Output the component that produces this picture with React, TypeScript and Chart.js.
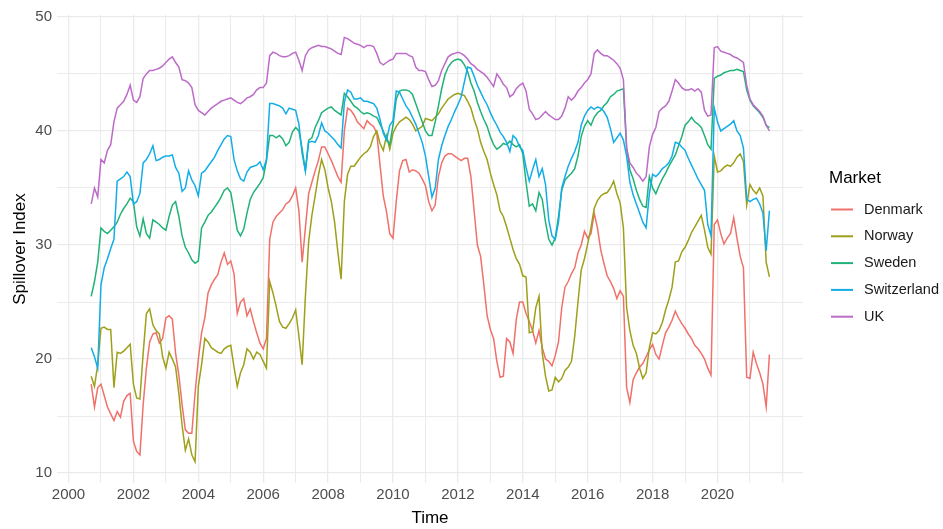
import { useEffect, useRef } from 'react';
import { Chart, registerables } from 'chart.js';

Chart.register(...registerables);

const FONT = '"Liberation Sans", Arial, Helvetica, sans-serif';

// Sampling grid: every 0.1 year from 2000.7 to 2021.6
const START_YEAR = 2000.7;
const STEP_YEAR = 0.1;

const denmark = [
  17.8, 15.8, 17.5, 17.8, 16.8, 15.8, 15.2, 14.6, 15.4, 14.9, 16.3, 16.8, 17.0, 12.8, 11.9, 11.6, 16.0, 19.2, 21.5, 22.2, 22.3, 21.4, 21.8, 23.6, 23.8, 23.5, 20.5, 18.6, 16.0, 13.8, 13.5, 13.5, 17.0, 20.0, 22.3, 23.6, 25.8, 26.5, 27.0, 27.4, 28.5, 29.3,
  28.3, 28.6, 27.5, 24.0, 25.0, 25.3, 23.8, 24.4, 23.3, 22.3, 21.4, 20.9, 21.8, 30.5, 32.0, 32.5, 32.8, 33.1, 33.6, 33.8, 34.3, 35.0, 33.0, 28.5, 31.5, 34.5, 35.5, 36.5, 37.4, 38.6, 38.6, 38.0, 37.4, 36.7, 36.0, 35.5, 40.0, 42.0, 41.8, 41.4, 40.8, 40.5, 40.2,
  40.9, 40.6, 40.4, 39.8, 37.0, 34.3, 32.9, 31.0, 30.6, 33.8, 36.5, 37.4, 37.5, 36.4, 36.6, 36.5, 36.3, 35.8, 35.2, 33.8, 33.0, 33.5, 36.0, 37.2, 37.8, 38.0, 38.0, 37.8, 37.6, 37.4, 37.6, 37.6, 36.0, 33.0, 30.0, 29.0, 26.5, 23.8, 22.6, 21.8, 19.8, 18.4, 18.5,
  21.8, 21.5, 20.5, 23.5, 25.0, 25.0, 24.0, 23.3, 22.5, 21.4, 22.5, 21.0, 20.0, 19.8, 19.4, 20.3, 21.5, 24.5, 26.3, 26.8, 27.5, 28.0, 29.3, 30.0, 31.2, 30.6, 31.0, 32.8, 31.5, 29.6, 28.4, 27.3, 26.8, 26.2, 25.3, 26.0, 25.5, 17.5, 16.2, 18.2, 18.8, 19.3, 19.6,
  20.2, 20.8, 21.3, 20.4, 20.0, 21.2, 22.3, 22.8, 23.4, 24.2, 23.6, 23.1, 22.7, 22.2, 21.8, 21.2, 20.9, 20.5, 20.0, 19.2, 18.6, 31.8, 32.2, 31.0, 30.1, 30.6, 31.0, 32.4, 30.6, 29.0, 28.0, 18.4, 18.3, 20.6, 19.6, 18.8, 17.8, 15.8, 20.4,
];

const norway = [
  18.5, 17.6, 19.5, 22.7, 22.8, 22.6, 22.6, 17.5, 20.6, 20.5, 20.7, 21.0, 21.3, 17.8, 16.6, 16.5, 20.5, 24.0, 24.4, 23.0, 22.5, 22.2, 20.2, 19.2, 20.6, 20.0, 19.3, 17.0, 14.2, 12.0, 13.0, 11.6, 11.0, 17.6, 19.5, 21.8, 21.5, 21.0, 20.8, 20.6, 20.5, 20.9,
  21.1, 21.2, 19.3, 17.6, 18.8, 19.5, 20.9, 20.6, 20.0, 20.6, 20.4, 19.8, 19.2, 26.8, 25.8, 24.6, 23.3, 22.8, 22.7, 23.1, 23.6, 24.3, 22.0, 19.5, 25.5, 30.3, 32.6, 34.3, 36.1, 37.5, 36.6, 35.0, 33.8, 32.0, 29.4, 27.0, 33.8, 36.2, 36.9, 36.9, 37.3, 37.7, 38.0,
  38.2, 38.6, 39.5, 40.0, 38.9, 38.3, 39.6, 38.4, 39.8, 40.4, 40.8, 41.0, 41.2, 41.0, 40.6, 40.0, 40.2, 40.4, 41.1, 41.0, 40.9, 41.2, 41.5, 42.0, 42.4, 42.8, 43.0, 43.2, 43.3, 43.2, 43.1, 42.6, 42.0, 41.0, 40.2, 39.0, 38.2, 37.5, 36.3, 35.3, 34.4, 33.0, 32.5,
  31.6, 30.6, 29.6, 28.8, 28.3, 27.3, 27.2, 22.3, 22.4, 24.5, 25.5, 20.5, 18.5, 17.2, 17.3, 18.4, 18.0, 18.3, 19.0, 19.3, 19.8, 22.0, 25.0, 27.8, 28.8, 30.1, 31.5, 33.2, 33.9, 34.3, 34.5, 34.6, 35.0, 35.6, 34.5, 33.7, 31.5, 24.5, 22.5, 21.2, 20.5, 19.2, 18.3,
  18.8, 21.0, 22.3, 22.2, 22.5, 23.2, 24.3, 25.2, 26.3, 28.5, 28.6, 29.4, 29.8, 30.4, 31.1, 31.6, 32.1, 32.6, 31.3, 29.8, 29.2, 37.8, 36.4, 36.5, 36.8, 37.0, 36.9, 37.2, 37.7, 38.0, 37.3, 33.5, 35.3, 34.8, 34.5, 35.0, 34.3, 28.5, 27.2,
];

const sweden = [
  25.5, 26.8, 28.5, 31.5, 31.2, 31.0, 31.3, 31.6, 32.0, 32.7, 33.2, 33.6, 34.1, 33.8, 31.6, 30.8, 32.3, 31.0, 30.6, 32.2, 32.0, 31.8, 31.5, 31.3, 32.5, 33.5, 33.8, 32.5, 30.8, 29.8, 29.3, 28.7, 28.4, 28.6, 31.5, 32.0, 32.6, 32.9, 33.3, 33.7, 34.2, 34.8,
  35.0, 34.6, 33.0, 31.3, 30.8, 31.4, 32.8, 34.0, 34.6, 35.0, 35.4, 35.9, 37.4, 39.6, 39.6, 39.4, 39.6, 39.3, 38.7, 39.0, 39.9, 40.3, 40.0, 38.4, 36.5, 39.2, 39.4, 40.3, 40.9, 41.6, 41.8, 42.0, 42.1, 41.8, 41.6, 41.4, 43.3, 43.0, 42.6, 42.2, 42.0, 41.7, 41.5,
  41.6, 41.5, 41.3, 41.2, 40.6, 40.0, 39.3, 38.8, 40.5, 42.8, 43.5, 43.6, 43.6, 43.5, 43.2, 42.4, 41.6, 40.8, 40.0, 39.6, 39.6, 40.8, 42.2, 43.7, 44.9, 45.6, 46.0, 46.2, 46.3, 46.2, 45.8, 45.2, 44.2, 43.5, 42.5, 41.7, 41.0, 40.4, 39.5, 38.8, 38.4, 38.6, 38.9,
  38.8, 39.1, 38.8, 38.6, 38.8, 38.0, 35.5, 33.4, 33.6, 33.0, 34.6, 34.0, 32.0, 30.5, 30.0, 30.6, 32.5, 34.8, 35.7, 36.0, 36.3, 36.7, 37.8, 39.5, 40.4, 40.9, 40.5, 41.2, 41.6, 41.8, 42.2, 42.5, 43.0, 43.2, 43.5, 43.6, 43.7, 38.5, 36.6, 35.8, 34.8, 34.0, 33.4,
  33.3, 36.0, 35.0, 34.5, 35.2, 35.8, 36.3, 36.9, 37.4, 37.9, 38.7, 39.5, 40.5, 40.8, 41.2, 40.8, 40.6, 40.3, 39.6, 38.8, 38.4, 44.6, 44.8, 44.9, 45.1, 45.2, 45.3, 45.3, 45.4, 45.3, 45.2, 43.6, 42.7, 42.2, 41.9, 41.6, 41.2, 40.5, 40.3,
];

const switzerland = [
  21.0, 20.2, 19.2, 26.5, 28.0, 28.8, 29.7, 30.5, 35.6, 35.8, 36.0, 36.4, 36.0, 33.6, 33.8, 34.5, 37.2, 37.5, 38.0, 38.7, 37.4, 37.5, 37.7, 37.8, 37.8, 37.9, 36.8, 36.3, 34.7, 35.0, 36.5, 35.7, 35.2, 34.3, 36.3, 36.5, 36.9, 37.3, 37.7, 38.3, 38.8, 39.3,
  39.6, 39.5, 37.5, 36.5, 35.8, 35.6, 36.4, 36.8, 36.9, 37.0, 37.3, 36.6, 37.5, 42.4, 42.4, 42.3, 42.2, 42.0, 41.5, 42.0, 41.9, 41.8, 40.6, 38.0, 36.5, 39.0, 39.1, 39.0, 39.6, 40.7, 40.0, 39.8, 39.5, 39.2, 38.8, 38.5, 42.5, 43.6, 43.4, 42.8, 42.8, 42.9, 42.6,
  42.6, 42.5, 42.4, 42.0, 41.0, 39.8, 39.2, 40.5, 40.9, 43.5, 43.4, 42.8, 42.2, 41.8, 41.2, 40.6, 39.8, 39.0, 37.8, 36.0, 34.2, 35.0, 37.5, 38.7, 39.6, 40.4, 41.0, 41.7, 42.3, 43.0, 44.3, 45.6, 45.5, 44.8, 44.0, 43.4, 42.8, 42.3, 41.6, 41.0, 40.5, 39.9, 39.5,
  39.0, 38.2, 39.6, 39.3, 38.6, 38.3, 36.8, 35.6, 36.6, 37.5, 36.0, 36.7, 35.3, 32.2, 30.8, 30.5, 32.0, 35.0, 36.0, 36.9, 37.6, 38.2, 39.0, 40.5, 41.3, 41.8, 42.1, 41.9, 42.1, 42.0, 41.7, 41.2, 40.2, 39.0, 39.4, 39.8, 39.2, 37.8, 35.5, 34.4, 33.6, 32.8, 32.0,
  31.5, 34.5, 36.2, 36.0, 36.3, 36.7, 36.9, 37.2, 37.8, 39.0, 38.9, 38.6, 38.3, 37.6, 37.0, 36.4, 35.8, 35.3, 34.8, 31.8, 30.8, 42.0, 40.8, 40.0, 40.2, 40.4, 40.6, 40.9, 40.0, 39.6, 38.5, 34.0, 33.8, 34.0, 34.1, 33.6, 32.8, 29.5, 33.0,
];

const uk = [
  33.6, 35.0, 34.2, 37.5, 37.2, 38.3, 38.8, 40.8, 42.0, 42.3, 42.6, 43.2, 44.0, 42.7, 42.5, 43.0, 44.6, 45.0, 45.3, 45.3, 45.4, 45.5, 45.7, 46.0, 46.3, 46.5, 46.0, 45.6, 44.5, 44.4, 44.2, 43.8, 42.3, 41.8, 41.6, 41.4, 41.7, 42.0, 42.2, 42.4, 42.6, 42.7,
  42.8, 42.9, 42.7, 42.5, 42.4, 42.6, 42.9, 43.0, 43.2, 43.6, 43.8, 43.8, 44.2, 46.6, 46.9, 46.8, 46.6, 46.5, 46.5, 46.6, 46.8, 46.9, 46.2, 45.3, 46.6, 47.1, 47.3, 47.4, 47.5, 47.4, 47.4, 47.3, 47.2, 47.0, 46.8, 46.7, 48.2, 48.1, 47.9, 47.7, 47.6, 47.5, 47.3,
  47.5, 47.5, 47.4, 46.8, 46.0, 45.8, 46.0, 46.2, 46.3, 46.8, 46.8, 46.8, 46.8, 46.6, 46.5, 45.6, 45.3, 45.3, 45.2, 44.5, 43.9, 44.0, 44.4, 45.3, 45.9, 46.5, 46.7, 46.8, 46.9, 46.8, 46.6, 46.3, 45.9, 45.7, 45.4, 45.2, 45.0, 44.7, 44.3, 43.9, 45.0, 44.6, 44.1,
  43.8, 43.0, 43.2, 43.7, 44.0, 44.2, 43.5, 41.9, 41.5, 41.0, 41.1, 41.4, 41.7, 41.4, 41.2, 41.0, 41.0, 41.3, 42.0, 43.0, 42.7, 43.0, 43.5, 43.8, 44.2, 44.5, 45.0, 46.8, 47.1, 46.8, 46.6, 46.6, 46.4, 46.2, 45.9, 45.5, 44.5, 38.5, 37.2, 36.8, 36.3, 36.0, 35.6,
  36.0, 38.6, 39.7, 40.3, 41.7, 42.0, 42.2, 42.6, 43.5, 44.5, 44.2, 43.8, 43.6, 43.6, 43.7, 43.5, 43.7, 43.4, 41.8, 41.3, 41.4, 47.3, 47.4, 47.0, 46.9, 46.8, 46.7, 46.5, 46.4, 46.2, 46.0, 44.0, 42.8, 42.3, 42.0, 41.7, 41.3, 40.5, 40.0,
];

const time = denmark.map((_, i) => Math.round((START_YEAR + i * STEP_YEAR) * 10) / 10);

const marketNames = ['Denmark', 'Norway', 'Sweden', 'Switzerland', 'UK'];
const marketValues = [denmark, norway, sweden, switzerland, uk];
const marketColors = ['#F0716A', '#9EA01A', '#20B277', '#12ADE8', '#BC6BC8'];

const xTicks = [2000, 2001, 2002, 2003, 2004, 2005, 2006, 2007, 2008, 2009, 2010, 2011, 2012, 2013, 2014, 2015, 2016, 2017, 2018, 2019, 2020, 2021, 2022];
const xLabels = [2000, 2002, 2004, 2006, 2008, 2010, 2012, 2014, 2016, 2018, 2020];
const yTicks = [10, 15, 20, 25, 30, 35, 40, 45, 50];
const yLabels = [10, 20, 30, 40, 50];

const legendPlugin = {
  id: 'ggLegend',
  afterDraw(chart: any) {
    const ctx = chart.ctx;
    ctx.save();
    ctx.textAlign = 'left';
    ctx.textBaseline = 'middle';
    ctx.fillStyle = '#000000';
    ctx.font = `17px ${FONT}`;
    ctx.fillText('Market', 829, 178);
    marketNames.forEach((name, i) => {
      const y = 209.5 + i * 26.8;
      ctx.strokeStyle = marketColors[i];
      ctx.lineWidth = 2;
      ctx.beginPath();
      ctx.moveTo(831, y);
      ctx.lineTo(853, y);
      ctx.stroke();
      ctx.fillStyle = '#1a1a1a';
      ctx.font = `14.5px ${FONT}`;
      ctx.fillText(name, 864, y);
    });
    ctx.restore();
  },
};

export default function App() {
  const canvasRef = useRef<HTMLCanvasElement | null>(null);

  useEffect(() => {
    const canvas = canvasRef.current;
    if (!canvas) return;
    Chart.defaults.font.family = FONT;

    const chart = new Chart(canvas, {
      type: 'line',
      data: {
        datasets: marketNames.map((name, i) => ({
          label: name,
          data: time.map((t, j) => ({ x: t, y: marketValues[i][j] })),
          borderColor: marketColors[i],
          backgroundColor: marketColors[i],
          borderWidth: 1.5,
          pointRadius: 0,
          tension: 0,
          fill: false,
          order: marketNames.length - 1 - i,
        })),
      },
      options: {
        responsive: false,
        animation: false,
        devicePixelRatio: 1,
        layout: { padding: { left: 0, top: 15, right: 140, bottom: 0 } },
        plugins: {
          legend: { display: false },
          tooltip: { enabled: false },
        },
        scales: {
          x: {
            type: 'linear',
            min: 1999.645,
            max: 2022.635,
            afterBuildTicks: (scale: any) => {
              scale.ticks = xTicks.map((v) => ({ value: v }));
            },
            afterFit: (scale: any) => {
              scale.height = 46;
            },
            ticks: {
              autoSkip: false,
              maxRotation: 0,
              padding: 3,
              color: '#4d4d4d',
              font: { size: 15, family: FONT },
              callback: (v: any) => (xLabels.includes(Number(v)) ? String(v) : ''),
            },
            grid: {
              drawTicks: false,
              color: '#EBEBEB',
              lineWidth: (ctx: any) => (ctx.tick && ctx.tick.value % 2 === 0 ? 1.3 : 1),
            },
            border: { display: false },
            title: {
              display: true,
              text: 'Time',
              color: '#000000',
              font: { size: 17, family: FONT },
              padding: { top: 0, bottom: 0 },
            },
          },
          y: {
            type: 'linear',
            min: 9.135,
            max: 50.165,
            afterBuildTicks: (scale: any) => {
              scale.ticks = yTicks.map((v) => ({ value: v }));
            },
            afterFit: (scale: any) => {
              scale.width = 57;
            },
            ticks: {
              autoSkip: false,
              padding: 5,
              color: '#4d4d4d',
              font: { size: 15, family: FONT },
              callback: (v: any) => (yLabels.includes(Number(v)) ? String(v) : ''),
            },
            grid: {
              drawTicks: false,
              color: '#EBEBEB',
              lineWidth: (ctx: any) => (ctx.tick && ctx.tick.value % 10 === 0 ? 1.3 : 1),
            },
            border: { display: false },
            title: {
              display: true,
              text: 'Spillover Index',
              color: '#000000',
              font: { size: 17, family: FONT },
              padding: { top: 10, bottom: 0 },
            },
          },
        },
      },
      plugins: [legendPlugin],
    });

    return () => {
      chart.destroy();
    };
  }, []);

  return (
    <div style={{ position: 'fixed', left: 0, top: 0, width: 943, height: 529, background: '#ffffff' }}>
      <canvas ref={canvasRef} width={943} height={529} style={{ display: 'block', width: 943, height: 529 }} />
    </div>
  );
}
